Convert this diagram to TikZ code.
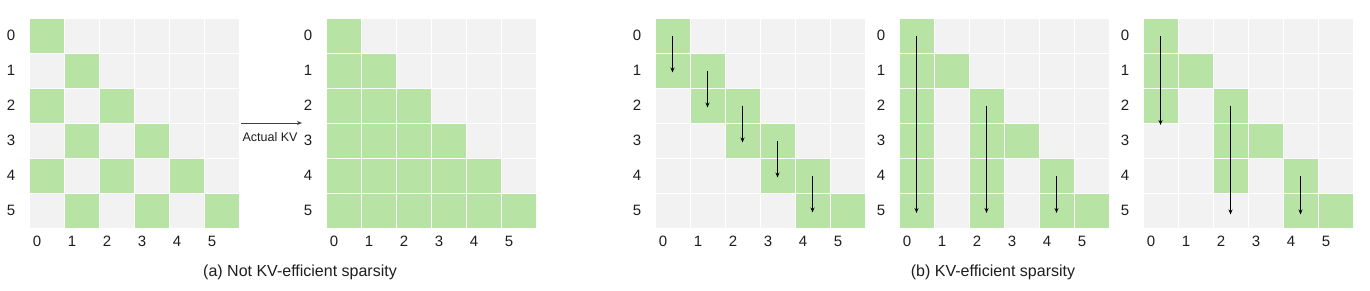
\documentclass[tikz,border=0pt]{standalone}
\usepackage{fontspec}
\setmainfont{Liberation Sans}
\usetikzlibrary{arrows.meta}
\definecolor{cgreen}{RGB}{183,228,164}
\definecolor{cgray}{RGB}{242,242,242}
\definecolor{ctext}{RGB}{30,30,30}
\newcommand\mygrid[3]{%
  \foreach \r in {0,...,5}{%
    \node[lab] (#1-rl\r) at (#2-18, 35.5+35*\r) {\r};
    \node[lab] (#1-cl\r) at (#2+35*\r+8, 241) {\r};
    \foreach \c in {0,...,5}{%
      \pgfmathtruncatemacro\on{#3}%
      \ifnum\on=1 \def\cc{cgreen}\else\def\cc{cgray}\fi
      \node[cell,fill=\cc] (#1-\r-\c) at (#2+35*\c+17.5, 18+35*\r+17.5) {};
    }%
  }%
}
\begin{document}
\begin{tikzpicture}[x=1pt,y=-1pt,
  cell/.style={draw=white,line width=1pt,minimum size=35pt,inner sep=0pt,outer sep=0pt},
  lab/.style={text=ctext,inner sep=0pt,font=\fontsize{15}{17}\selectfont},
  caption/.style={text=ctext,inner sep=0pt,font=\fontsize{16}{19}\selectfont},
  arr/.style={-{Stealth[length=5pt,width=4pt]},line width=1.1pt,black}]
\path[use as bounding box, fill=white] (0,0) rectangle (1370,290);
% grids
\mygrid{a}{29}{(\c<=\r) && (mod(\r-\c,2)==0)}
\mygrid{b}{326}{(\c<=\r)}
\mygrid{c}{655}{(\c==\r) || (\c==\r-1)}
\mygrid{d}{899}{(\c==\r) || ((\c<=\r) && (mod(\c,2)==0))}
\mygrid{e}{1143}{(\c==\r) || ((\c<=\r) && (\r-\c<=2) && (mod(\c,2)==0))}
% actual KV arrow
\coordinate (kvs) at (241,123);
\coordinate (kve) at (302,123);
\draw[-{Stealth[length=5pt,width=4pt]},line width=0.9pt,ctext!85] (kvs) -- (kve);
\node[text=ctext,inner sep=0pt,font=\fontsize{12.5}{14}\selectfont] (kvl) at (270,137) {Actual KV};
% grid c arrows
\foreach \i [evaluate=\i as \j using int(\i+1)] in {0,...,4}{
  \draw[arr] (c-\i-\i.center) -- ([yshift=-2pt]c-\j-\i.center);
}
% grid d arrows
\draw[arr] (d-0-0.center) -- ([yshift=-2.5pt]d-5-0.center);
\draw[arr] (d-2-2.center) -- ([yshift=-2.5pt]d-5-2.center);
\draw[arr] (d-4-4.center) -- ([yshift=-2.5pt]d-5-4.center);
% grid e arrows
\draw[arr] (e-0-0.center) -- ([yshift=-2pt]e-2-0.south);
\draw[arr] (e-2-2.center) -- ([yshift=-4pt]e-5-2.center);
\draw[arr] (e-4-4.center) -- ([yshift=-4pt]e-5-4.center);
% captions
\node[caption] (capa) at (300,272) {(a) Not KV-efficient sparsity};
\node[caption] (capb) at (993,272) {(b) KV-efficient sparsity};
\end{tikzpicture}
\end{document}
